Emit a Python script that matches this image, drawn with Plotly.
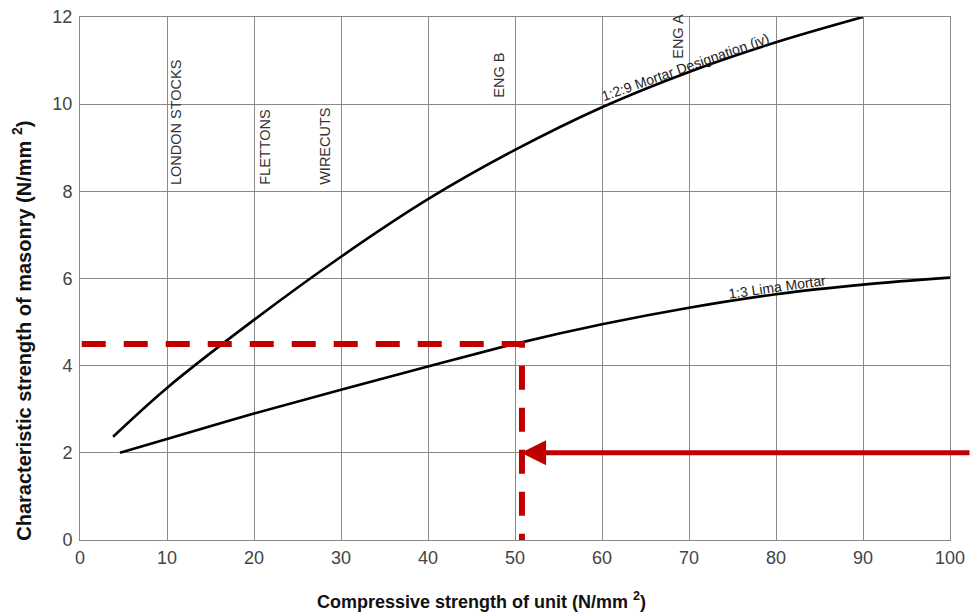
import plotly.graph_objects as go

# ---- data ----
mortar_129_x = [3.8, 10, 20, 30, 40, 50, 60, 70, 80, 90]
mortar_129_y = [2.37, 3.49, 5.05, 6.5, 7.82, 8.95, 9.93, 10.74, 11.42, 12.0]

lime_13_x = [4.6, 10, 20, 30, 40, 50, 60, 70, 80, 90, 100]
lime_13_y = [2.0, 2.32, 2.9, 3.45, 3.98, 4.5, 4.95, 5.33, 5.64, 5.86, 6.02]

read_x = [0.2, 50.8, 50.8]
read_y = [4.5, 4.5, -0.1]

arrow_tip_x = 50.7
arrow_tip_y = 2.0

unit_labels = ["LONDON STOCKS", "FLETTONS", "WIRECUTS", "ENG B", "ENG A"]
unit_label_x = [11.1, 21.3, 28.2, 48.2, 68.7]
unit_label_y = [8.1, 8.1, 8.1, 10.1, 11.0]

x_ticks = [0, 10, 20, 30, 40, 50, 60, 70, 80, 90, 100]
y_ticks = [0, 2, 4, 6, 8, 10, 12]

FONT = "Liberation Sans, Arial, sans-serif"
RED = "#c00000"
GRID = "#8a8a8a"

fig = go.Figure()

fig.add_trace(go.Scatter(x=mortar_129_x, y=mortar_129_y, mode="lines",
                         line=dict(color="black", width=2.6, shape="spline", smoothing=1.0),
                         hoverinfo="skip", showlegend=False))
fig.add_trace(go.Scatter(x=lime_13_x, y=lime_13_y, mode="lines",
                         line=dict(color="black", width=2.6, shape="spline", smoothing=1.0),
                         hoverinfo="skip", showlegend=False))
fig.add_trace(go.Scatter(x=read_x, y=read_y, mode="lines",
                         line=dict(color=RED, width=6, dash="24px,18px"),
                         hoverinfo="skip", showlegend=False))

annotations = []
for t, lx, ly in zip(unit_labels, unit_label_x, unit_label_y):
    annotations.append(dict(x=lx, y=ly, xref="x", yref="y", text=t, showarrow=False,
                            textangle=-90, xanchor="center", yanchor="bottom",
                            font=dict(family=FONT, size=14.5, color="#333")))

annotations.append(dict(x=69.6, y=10.85, xref="x", yref="y", text="1:2:9 Mortar Designation (iv)",
                        showarrow=False, textangle=-19.5, xanchor="center", yanchor="middle",
                        font=dict(family=FONT, size=14, color="#222")))
annotations.append(dict(x=80.1, y=5.8, xref="x", yref="y", text="1:3 Lima Mortar",
                        showarrow=False, textangle=-8, xanchor="center", yanchor="middle",
                        font=dict(family=FONT, size=14, color="#222")))

# red arrow
annotations.append(dict(x=arrow_tip_x, y=arrow_tip_y, xref="x", yref="y", text="",
                        showarrow=True, ax=452, ay=0, axref="pixel", ayref="pixel",
                        arrowhead=2, arrowwidth=5, arrowsize=1, arrowcolor=RED, standoff=0))

# axis titles
annotations.append(dict(x=-0.0667, y=4.8, xref="paper", yref="y",
                        text="<b>Characteristic strength of masonry (N/mm <sup>2</sup>)</b>",
                        showarrow=False, textangle=-90, xanchor="center", yanchor="middle",
                        font=dict(family=FONT, size=20, color="#111")))
annotations.append(dict(x=46.2, y=-0.1166, xref="x", yref="paper",
                        text="<b>Compressive strength of unit (N/mm <sup>2</sup>)</b>",
                        showarrow=False, xanchor="center", yanchor="middle",
                        font=dict(family=FONT, size=18, color="#111")))

fig.update_layout(
    width=971, height=613,
    margin=dict(l=80, r=21, t=17, b=73, autoexpand=False),
    paper_bgcolor="white", plot_bgcolor="white",
    annotations=annotations,
    xaxis=dict(range=[0, 100], tickvals=x_ticks, showgrid=True, gridcolor=GRID, gridwidth=1,
               showline=True, linecolor=GRID, linewidth=1, mirror=True, zeroline=False,
               ticks="outside", ticklen=1, tickcolor="rgba(0,0,0,0)", ticklabeloverflow="allow",
               tickfont=dict(family=FONT, size=18, color="#444")),
    yaxis=dict(range=[0, 12], tickvals=y_ticks, showgrid=True, gridcolor=GRID, gridwidth=1,
               showline=True, linecolor=GRID, linewidth=1, mirror=True, zeroline=False,
               ticks="outside", ticklen=3, tickcolor="rgba(0,0,0,0)", ticklabeloverflow="allow",
               tickfont=dict(family=FONT, size=18, color="#444")),
)

# remove the browser's default 8px body margin so the figure fills the window exactly
fig.write_html("out.html", config={"displayModeBar": False},
               post_script="document.body.style.margin='0';document.body.style.overflow='hidden';")
